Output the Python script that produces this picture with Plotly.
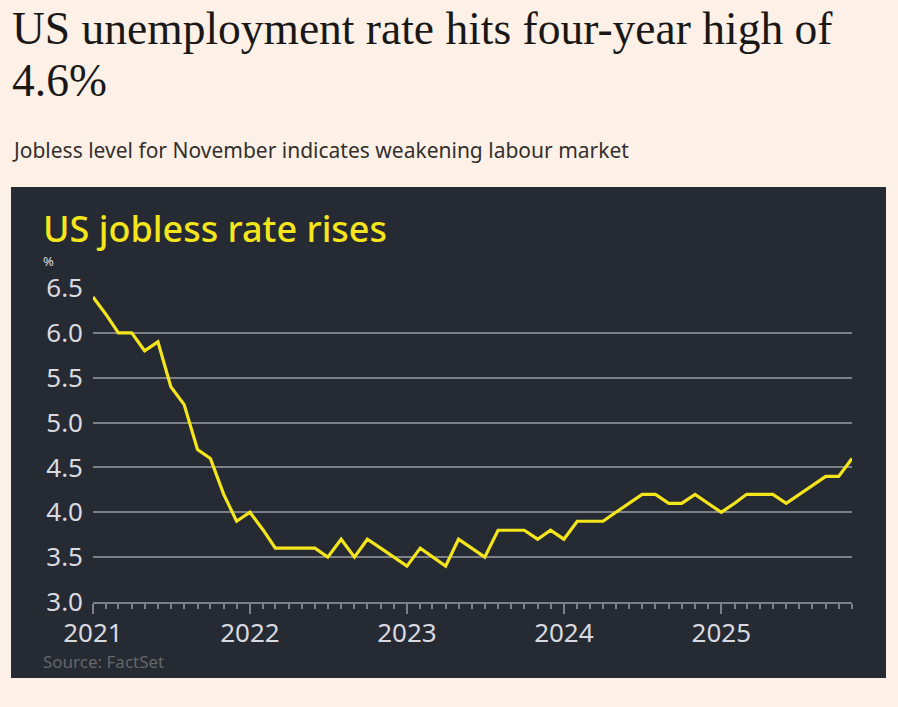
import plotly.graph_objects as go
import pandas as pd

# Data: US unemployment rate (%), monthly Jan 2021 - Nov 2025
months = pd.date_range("2021-01-01", "2025-11-01", freq="MS")
rate = [
    6.4, 6.2, 6.0, 6.0, 5.8, 5.9, 5.4, 5.2, 4.7, 4.6, 4.2, 3.9,   # 2021
    4.0, 3.8, 3.6, 3.6, 3.6, 3.6, 3.5, 3.7, 3.5, 3.7, 3.6, 3.5,   # 2022
    3.4, 3.6, 3.5, 3.4, 3.7, 3.6, 3.5, 3.8, 3.8, 3.8, 3.7, 3.8,   # 2023
    3.7, 3.9, 3.9, 3.9, 4.0, 4.1, 4.2, 4.2, 4.1, 4.1, 4.2, 4.1,   # 2024
    4.0, 4.1, 4.2, 4.2, 4.2, 4.1, 4.2, 4.3, 4.4, 4.4, 4.6,        # 2025
]
y_ticks = [3.0, 3.5, 4.0, 4.5, 5.0, 5.5, 6.0, 6.5]

W, H = 898, 707
L, R, T, B = 93, 852, 288, 602
pw, ph = R - L, B - T

def px(x):
    return (x - L) / pw

def py(y):
    return (B - y) / ph

BG = "#fdf0e6"
DARK = "#262a33"
GRID = "#7e8088"
YEL = "#f5e51b"
LBL = "#d9dae0"

fig = go.Figure()
fig.add_trace(go.Scatter(
    x=months, y=rate, mode="lines",
    line=dict(color=YEL, width=3.2), hoverinfo="skip", showlegend=False,
))

fig.update_layout(
    width=W, height=H,
    margin=dict(l=L, r=W - R, t=T, b=H - B, pad=0),
    paper_bgcolor=BG, plot_bgcolor=DARK,
    font=dict(family="Noto Sans", color=LBL),
    shapes=[dict(type="rect", xref="paper", yref="paper",
                 x0=px(11), x1=px(886), y0=py(678), y1=py(187),
                 fillcolor=DARK, line=dict(width=0), layer="below")],
    xaxis=dict(
        range=[months[0], months[-1]],
        tickmode="linear", tick0="2021-01-01", dtick="M12", tickformat="%Y",
        ticks="outside", ticklen=10, tickwidth=2, tickcolor=GRID,
        showline=True, linecolor=GRID, linewidth=2,
        showgrid=False, zeroline=False,
        ticklabelstandoff=-3,
        tickfont=dict(size=26, color=LBL, family="Noto Sans"),
        minor=dict(dtick="M1", tick0="2021-01-01", ticks="outside",
                   ticklen=5, tickwidth=1.5, tickcolor=GRID, showgrid=False),
        fixedrange=True,
    ),
    yaxis=dict(
        range=[3.0, 6.5], tickvals=y_ticks,
        ticktext=[f"{v:.1f}" for v in y_ticks],
        showgrid=True, gridcolor=GRID, gridwidth=2,
        zeroline=False, showline=False, ticks="",
        ticklabelstandoff=9,
        tickfont=dict(size=26, color=LBL, family="Noto Sans"),
        fixedrange=True,
    ),
)

ann = [
    dict(text="US unemployment rate hits four-year high of", x=px(10), y=py(56),
         xanchor="left", yanchor="bottom",
         font=dict(family="Liberation Serif", size=45.5, color="#1a1817")),
    dict(text="4.6%", x=px(10), y=py(108), xanchor="left", yanchor="bottom",
         font=dict(family="Liberation Serif", size=45.5, color="#1a1817")),
    dict(text="Jobless level for November indicates weakening labour market",
         x=px(10), y=py(150), xanchor="left", yanchor="middle",
         font=dict(family="Noto Sans", size=21, color="#33302e")),
    dict(text="US jobless rate rises", x=px(41), y=py(229), xanchor="left",
         yanchor="middle", font=dict(family="Noto Sans", size=36, color=YEL, weight=500)),
    dict(text="%", x=px(41), y=py(261), xanchor="left", yanchor="middle",
         font=dict(family="Noto Sans", size=13, color=LBL)),
    dict(text="Source: FactSet", x=px(41), y=py(661), xanchor="left",
         yanchor="middle", font=dict(family="Noto Sans", size=17, color="#65666a")),
]
for a in ann:
    a.update(xref="paper", yref="paper", showarrow=False)
fig.update_layout(annotations=ann)

fig.write_html("out.html", config={"displayModeBar": False})
